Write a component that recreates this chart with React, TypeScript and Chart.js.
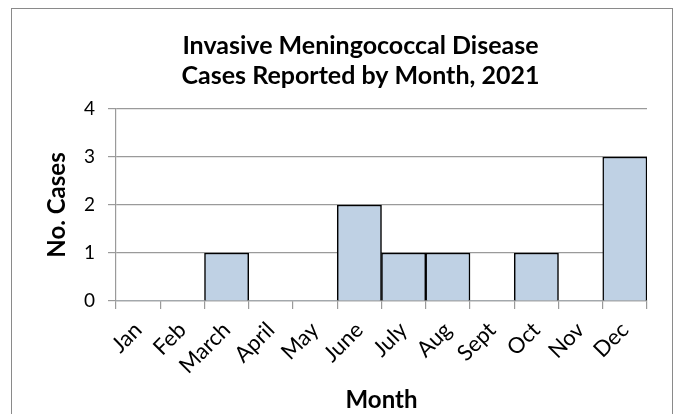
import React, { useEffect, useRef } from "react";
import { Chart, registerables } from "chart.js";

Chart.register(...registerables);

const titleLines = ["Invasive Meningococcal Disease", "Cases Reported by Month, 2021"];
const months = ["Jan", "Feb", "March", "April", "May", "June", "July", "Aug", "Sept", "Oct", "Nov", "Dec"];
const cases = [0, 0, 1, 0, 0, 2, 1, 1, 0, 1, 0, 3];
const yTicks = [0, 1, 2, 3, 4];
const xTitle = "Month";
const yTitle = "No. Cases";

const FONT = "Lato, 'Open Sans', sans-serif";

const titlePlugin = {
  id: "offsetTitle",
  afterDraw(chart: any) {
    const ctx = chart.ctx;
    ctx.save();
    ctx.font = `bold 25px ${FONT}`;
    ctx.fillStyle = "#000";
    ctx.textAlign = "center";
    ctx.textBaseline = "alphabetic";
    const cx = chart.width * 0.528;
    ctx.fillText(titleLines[0], cx, 45);
    ctx.fillText(titleLines[1], cx, 75);
    ctx.restore();
  },
};

export default function App() {
  const ref = useRef<HTMLCanvasElement>(null);
  useEffect(() => {
    if (!ref.current) return;
    const chart = new Chart(ref.current, {
      type: "bar",
      data: {
        labels: months,
        datasets: [
          {
            data: cases,
            backgroundColor: "#bfd1e4",
            borderColor: "#000",
            borderWidth: (c: any) => (c.raw === 0 ? 0 : 1.5),
            barPercentage: 1,
            categoryPercentage: 1,
          },
        ],
      },
      options: {
        animation: false,
        responsive: true,
        maintainAspectRatio: false,
        layout: { padding: { top: 100, right: 25, left: 0, bottom: 0 } },
        plugins: {
          legend: { display: false },
          tooltip: { enabled: false },
          title: { display: false },
        },
        scales: {
          x: {
            afterFit: (s: any) => {
              s.height = 128;
            },
            grid: {
              offset: true,
              drawOnChartArea: false,
              drawTicks: true,
              tickLength: 8,
              color: "#9a9a9a",
              lineWidth: 1.2,
            },
            border: { display: true, color: "#9a9a9a", width: 1.2 },
            ticks: {
              autoSkip: false,
              minRotation: 45,
              maxRotation: 45,
              color: "#000",
              padding: 8,
              font: { family: FONT, size: 22 },
            },
            title: {
              display: true,
              text: xTitle,
              color: "#000",
              font: { family: FONT, size: 24, weight: "bold" },
              padding: { top: 0, bottom: 14 },
            },
          },
          y: {
            min: 0,
            max: 4,
            afterFit: (s: any) => {
              s.width = 104;
            },
            afterBuildTicks: (s: any) => {
              s.ticks = yTicks.map((v) => ({ value: v }));
            },
            grid: {
              color: "#9a9a9a",
              lineWidth: 1.2,
              tickLength: 8,
              drawTicks: true,
            },
            border: { display: true, color: "#9a9a9a", width: 1.2 },
            ticks: {
              stepSize: 1,
              color: "#000",
              padding: 13,
              font: { family: FONT, size: 19 },
            },
            title: {
              display: true,
              text: yTitle,
              color: "#000",
              font: { family: FONT, size: 24, weight: "bold" },
              padding: { top: 31, bottom: 0 },
            },
          },
        },
      },
      plugins: [titlePlugin],
    } as any);
    return () => chart.destroy();
  }, []);

  return (
    <div
      style={{
        position: "fixed",
        left: 11,
        top: 8,
        width: 660,
        height: 420,
        border: "1px solid #8a8a8a",
        background: "#fff",
      }}
    >
      <div style={{ position: "relative", width: 660, height: 420 }}>
        <canvas ref={ref} />
      </div>
    </div>
  );
}
